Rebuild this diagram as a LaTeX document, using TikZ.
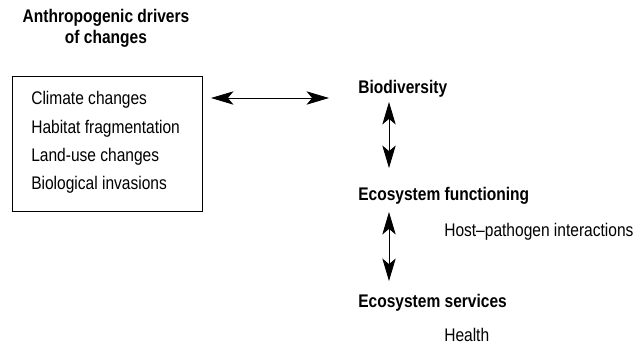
\documentclass[tikz,border=0pt]{standalone}
\usepackage{fontspec}
\setmainfont{Liberation Sans}[FakeStretch=0.85]
\usetikzlibrary{arrows.meta}

\begin{document}
\begin{tikzpicture}[x = 0.025cm, y = -0.025cm,
        every node/.style = {inner sep = 0pt, font = \fontsize{13}{15}\selectfont},
        head/.style = {font = \fontsize{13}{15}\selectfont\bfseries},
        item/.style = {anchor = base west},
        link/.style = {{Stealth[length = 16pt, width = 9.5pt, inset = 4pt]}-{Stealth[length = 16pt, width = 9.5pt, inset = 4pt]}, line width = 0.6pt}]

        \useasboundingbox (0, 0) rectangle (643, 344);

        % drivers of change
        \node[head, align = center] (title) at (106, 28) {Anthropogenic drivers\\of changes};
        \draw[line width = 0.6pt] (12, 76) rectangle (202, 211);

        \node[item] (climate) at (31, 104.5) {Climate changes};
        \node[item] (habitat) at (31, 133) {Habitat fragmentation};
        \node[item] (landuse) at (31, 161) {Land-use changes};
        \node[item] (invasion) at (31, 189.5) {Biological invasions};

        \coordinate (box) at (211, 98);
        \coordinate (bio) at (329, 98);

        % ecosystem chain
        \node[head, item] (biodiv) at (358, 93) {Biodiversity};
        \node[head, item] (function) at (358, 200) {Ecosystem functioning};
        \node[head, item] (services) at (358, 307) {Ecosystem services};

        \node[item] (host) at (444, 236) {Host--pathogen interactions};
        \node[item] (health) at (444, 341) {Health};

        \coordinate (a1) at (389, 102);
        \coordinate (a2) at (389, 168);
        \coordinate (b1) at (389, 212);
        \coordinate (b2) at (389, 281);

        \draw[link] (box) -- (bio);
        \draw[link] (a1) -- (a2);
        \draw[link] (b1) -- (b2);

    \end{tikzpicture}
\end{document}
